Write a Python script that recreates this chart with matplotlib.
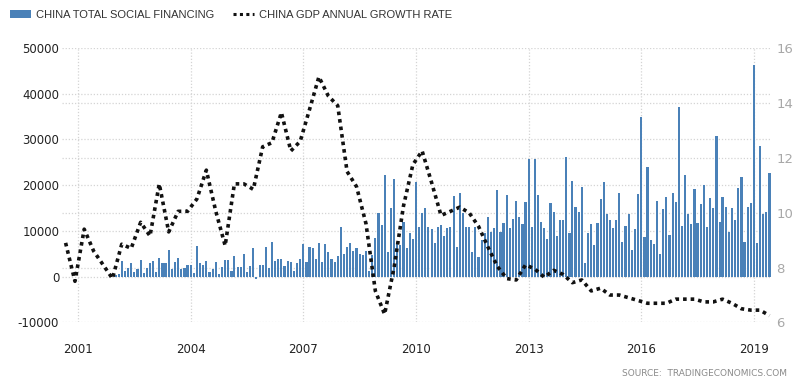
import numpy as np
import pandas as pd
import matplotlib
matplotlib.use("Agg")
import matplotlib.pyplot as plt
import matplotlib.dates as mdates
from matplotlib.patches import Patch
from matplotlib.lines import Line2D

# China total social financing, monthly (CNY 100 million), Jan 2002 - Jun 2019
tsf_2002 = [300, 600, 3400, 1300, 2000, 2900, 950, 1800, 3650, 800, 2000, 3100]
tsf_2003 = [3400, 1100, 4200, 2900, 3100, 5900, 1600, 3300, 4200, 1750, 2000, 2600]
tsf_2004 = [2500, 800, 6800, 2900, 2600, 3500, 950, 1700, 3300, 600, 2200, 3700]
tsf_2005 = [3700, 1200, 4500, 2200, 2200, 5000, 950, 2300, 6300, -500, 2600, 2600]
tsf_2006 = [6600, 1900, 7600, 3500, 3900, 3900, 2400, 3500, 3200, 1200, 2900, 3900]
tsf_2007 = [7100, 3200, 6600, 6300, 3900, 7400, 3200, 7100, 5500, 3900, 3200, 4500]
tsf_2008 = [10900, 5000, 6600, 7400, 5700, 6300, 5000, 4700, 5700, 1300, 4700, 8400]
tsf_2009 = [14000, 11200, 22200, 5500, 15100, 21300, 7500, 7000, 11900, 6300, 9600, 8300]
tsf_2010 = [20700, 10900, 14000, 15000, 10900, 10400, 7300, 10900, 11400, 8800, 10600, 10900]
tsf_2011 = [17600, 6600, 18400, 13900, 10900, 10900, 5500, 10900, 4400, 8100, 9600, 12980]
tsf_2012 = [9840, 10640, 18880, 9840, 11660, 17860, 10640, 12680, 16550, 12980, 11450, 16260]
tsf_2013 = [25660, 10940, 25660, 17860, 11960, 10640, 8310, 16040, 14220, 8820, 12470, 12470]
tsf_2014 = [26100, 9620, 20920, 15310, 14220, 19680, 2920, 9620, 11450, 7000, 11660, 17060]
tsf_2015 = [20700, 13700, 12470, 10640, 12470, 18370, 7580, 11150, 13780, 5760, 10420, 18150]
tsf_2016 = [34920, 8600, 24060, 8020, 7070, 16620, 4960, 14730, 17420, 9110, 18370, 16330]
tsf_2017 = [37180, 11150, 22230, 13700, 11450, 19170, 11660, 15820, 19970, 10940, 17130, 15020]
tsf_2018 = [30760, 11960, 17350, 15240, 9700, 15020, 12470, 19460, 21800, 7580, 15310, 16040]
tsf_2019 = [46360, 7290, 28580, 13700, 14220, 22670]

tsf = (tsf_2002 + tsf_2003 + tsf_2004 + tsf_2005 + tsf_2006 + tsf_2007 +
       tsf_2008 + tsf_2009 + tsf_2010 + tsf_2011 + tsf_2012 + tsf_2013 +
       tsf_2014 + tsf_2015 + tsf_2016 + tsf_2017 + tsf_2018 + tsf_2019)

# China GDP annual growth rate, quarterly, Q3 2000 - Q2 2019 (%)
gdp = [8.9, 7.5,
       9.4, 8.6, 8.1, 7.6,
       8.85, 8.7, 9.65, 9.15,
       11.05, 9.3, 10.05, 10.05,
       10.5, 11.55, 10.05, 8.8,
       11.05, 11.05, 10.85, 12.4,
       12.55, 13.65, 12.25, 12.6,
       13.75, 14.95, 14.25, 13.9,
       11.5, 10.95, 9.6, 7.15,
       6.3, 8.0, 10.25, 11.75,
       12.25, 11.1, 9.9, 10.05,
       10.2, 10.0, 9.5, 8.75,
       8.05, 7.6, 7.55, 8.1,
       7.95, 7.65, 7.9, 7.75,
       7.45, 7.55, 7.15, 7.25,
       7.0, 7.0, 6.9, 6.8,
       6.7, 6.7, 6.7, 6.85,
       6.85, 6.85, 6.75, 6.75,
       6.85, 6.7, 6.5, 6.45,
       6.45, 6.25]

tsf_dates = pd.date_range("2002-01-01", periods=len(tsf), freq="MS")
gdp_dates = pd.date_range("2000-09-01", periods=len(gdp), freq="3MS")

bar_color = "#4a81b8"
grid_color = "#d4d4d4"

fig = plt.figure(figsize=(8, 3.84), dpi=100)
ax = fig.add_axes([0.0775, 0.1602, 0.8863, 0.7148])
ax2 = ax.twinx()

ax.bar(tsf_dates, tsf, width=21, color=bar_color, zorder=2)
ax2.plot(gdp_dates, gdp, color="#111111", linestyle=(0, (1, 1.1)),
         linewidth=2.6, zorder=3)

ax.set_ylim(-10000, 50000)
ax2.set_ylim(6, 16)
ax.set_xlim(pd.Timestamp("2000-07-28"), pd.Timestamp("2019-06-16"))

left_ticks = np.arange(-10000, 50001, 10000)
right_ticks = np.arange(6, 17, 2)
ax.set_yticks(left_ticks)
ax.set_yticklabels([str(v) for v in left_ticks])
ax2.set_yticks(right_ticks)
ax2.set_yticklabels([str(v) for v in right_ticks])
# right-axis grid drawn on the left axes so it stays behind the bars
lo, hi = ax.get_ylim()
lo2, hi2 = ax2.get_ylim()
ax.set_yticks(lo + (right_ticks - lo2) / (hi2 - lo2) * (hi - lo), minor=True)

ax.xaxis.set_major_locator(mdates.YearLocator(3))
ax.xaxis.set_major_formatter(mdates.DateFormatter("%Y"))

ax.grid(True, which="both", axis="y", color=grid_color, linestyle=(0, (1, 1.5)),
        linewidth=0.9, zorder=0)
ax.grid(True, which="major", axis="x", color=grid_color, linestyle=(0, (1, 1.5)),
        linewidth=0.9, zorder=0)
ax.set_axisbelow(True)

for a in (ax, ax2):
    for s in a.spines.values():
        s.set_visible(False)

ax.tick_params(axis="y", which="both", length=0, pad=2, labelsize=8.5,
               labelcolor="#222222")
ax.tick_params(axis="x", length=0, pad=15, labelsize=8.5, labelcolor="#222222")
ax2.tick_params(axis="y", length=0, pad=4, labelsize=9.5, labelcolor="#a8a8a8")

handles = [Patch(facecolor=bar_color, edgecolor="none"),
           Line2D([0], [0], color="#111111", linestyle=(0, (1, 1.1)), linewidth=2.2)]
labels = ["CHINA TOTAL SOCIAL FINANCING", "CHINA GDP ANNUAL GROWTH RATE"]
fig.legend(handles, labels, loc="upper left", bbox_to_anchor=(10 / 800, 1 - 9.5 / 384),
           ncol=2, frameon=False, borderpad=0, borderaxespad=0,
           handlelength=1.9, handletextpad=0.45, columnspacing=1.7,
           prop={"family": "Liberation Sans", "size": 8}, labelcolor="#333333")

fig.text(787 / 800, 1 - 374 / 384, "SOURCE:  TRADINGECONOMICS.COM", ha="right",
         va="center", fontsize=6.5, color="#8a8a8a")

fig.savefig("out.png", dpi=100)
